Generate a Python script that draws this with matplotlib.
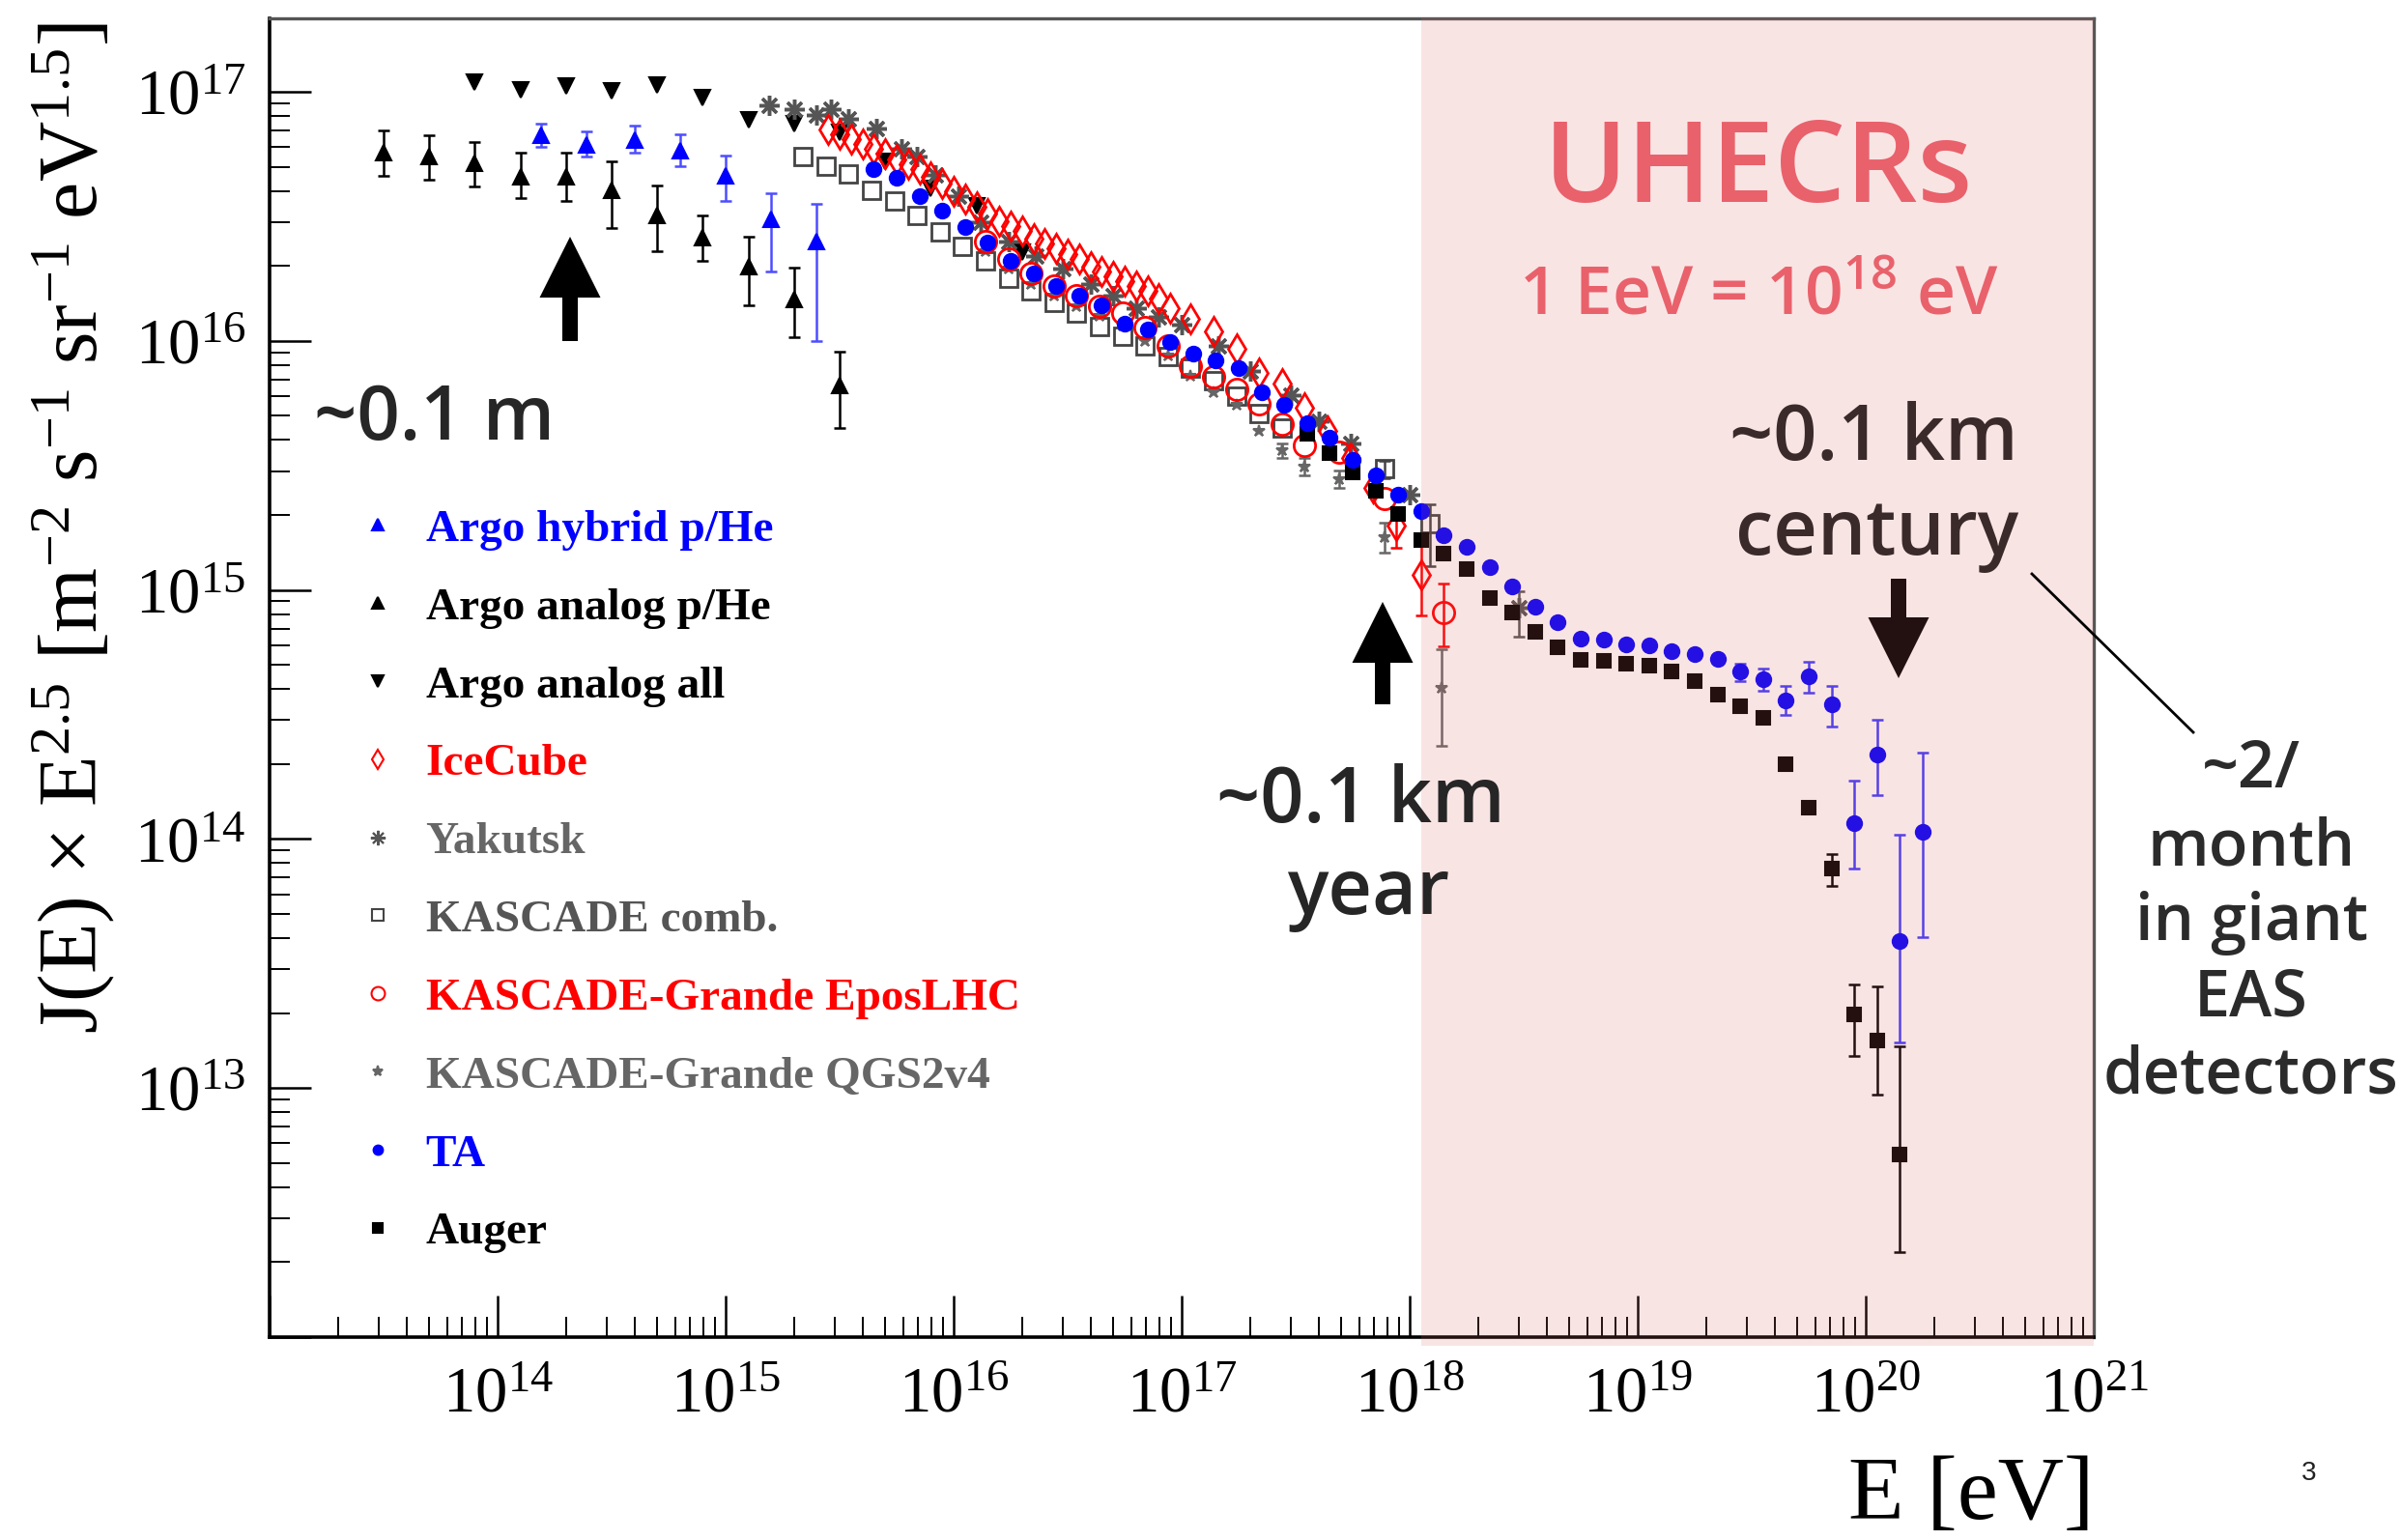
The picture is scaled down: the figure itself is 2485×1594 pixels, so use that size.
import numpy as np
import matplotlib
matplotlib.use("Agg")
import matplotlib.pyplot as plt
from matplotlib.lines import Line2D
from matplotlib.patches import Rectangle, FancyArrow
from matplotlib.ticker import FixedLocator, LogLocator, NullFormatter, FuncFormatter
from matplotlib.transforms import IdentityTransform

plt.rcParams["font.family"] = ["Liberation Serif", "DejaVu Serif"]
plt.rcParams["mathtext.default"] = "regular"

# log10(E / eV) and log10(J E^2.5) per data set
argo_hyb_E = [14.19, 14.39, 14.60, 14.80, 15.00, 15.20, 15.40]
argo_hyb_J = [16.826, 16.787, 16.807, 16.764, 16.661, 16.490, 16.400]
argo_hyb_lo = [16.781, 16.742, 16.755, 16.703, 16.561, 16.278, 16.000]
argo_hyb_hi = [16.871, 16.841, 16.865, 16.829, 16.745, 16.594, 16.551]

argo_ana_E = [13.50, 13.70, 13.90, 14.10, 14.30, 14.50, 14.70, 14.90, 15.10, 15.30, 15.50]
argo_ana_J = [16.755, 16.742, 16.712, 16.658, 16.658, 16.606, 16.503, 16.413, 16.297, 16.168, 15.820]
argo_ana_lo = [16.664, 16.648, 16.620, 16.574, 16.561, 16.454, 16.359, 16.323, 16.142, 16.013, 15.652]
argo_ana_hi = [16.845, 16.826, 16.800, 16.755, 16.755, 16.720, 16.622, 16.503, 16.420, 16.293, 15.955]

argo_all_E = [13.90, 14.10, 14.30, 14.50, 14.70, 14.90, 15.10, 15.30, 15.50, 15.70, 15.90, 16.10, 16.30]
argo_all_J = [17.040, 17.009, 17.022, 17.006, 17.026, 16.978, 16.888, 16.873, 16.839, 16.720, 16.613, 16.542, 16.355]

icecube_E = [15.45, 15.50, 15.55, 15.60, 15.65, 15.70, 15.75, 15.80, 15.85, 15.90,
             15.95, 16.00, 16.05, 16.10, 16.15, 16.20, 16.25, 16.30, 16.35, 16.40,
             16.45, 16.50, 16.55, 16.60, 16.65, 16.70, 16.75, 16.80, 16.85, 16.90,
             16.95, 17.04, 17.14, 17.24, 17.34, 17.44, 17.54, 17.64, 17.74, 17.84,
             17.94, 18.05]
icecube_J = [16.85, 16.83, 16.81, 16.79, 16.77, 16.75, 16.73, 16.71, 16.69, 16.66,
             16.63, 16.60, 16.57, 16.54, 16.51, 16.48, 16.46, 16.44, 16.41, 16.39,
             16.37, 16.35, 16.33, 16.30, 16.28, 16.26, 16.24, 16.22, 16.20, 16.17,
             16.13, 16.09, 16.04, 15.97, 15.87, 15.83, 15.73, 15.64, 15.53, 15.41,
             15.26, 15.06]
icecube_lo = [np.nan] * 40 + [15.17, 14.897]
icecube_hi = [np.nan] * 40 + [15.30, 15.20]

yakutsk_E = [15.19, 15.30, 15.40, 15.46, 15.54, 15.66, 15.77, 15.84, 15.92, 16.02,
             16.12, 16.24, 16.36, 16.48, 16.60, 16.70, 16.80, 16.90, 17.00, 17.16,
             17.30, 17.48, 17.60, 17.74, 18.00, 18.48]
yakutsk_J = [16.945, 16.929, 16.906, 16.930, 16.893, 16.854, 16.772, 16.740, 16.665, 16.580,
             16.478, 16.400, 16.340, 16.291, 16.230, 16.181, 16.130, 16.097, 16.065, 15.981,
             15.878, 15.781, 15.678, 15.587, 15.381, 14.930]
yakutsk_lo = [np.nan] * 25 + [14.813]
yakutsk_hi = [np.nan] * 25 + [14.995]

kascade_E = [15.34, 15.44, 15.54, 15.64, 15.74, 15.84, 15.94, 16.04, 16.14, 16.24,
             16.34, 16.44, 16.54, 16.64, 16.74, 16.84, 16.94, 17.04, 17.14, 17.24,
             17.34, 17.44, 17.89, 18.09]
kascade_J = [16.742, 16.703, 16.671, 16.606, 16.561, 16.503, 16.439, 16.381, 16.323, 16.252,
             16.200, 16.155, 16.110, 16.058, 16.020, 15.981, 15.936, 15.890, 15.840, 15.780,
             15.710, 15.650, 15.486, 15.265]
kascade_lo = [np.nan] * 22 + [15.45, 15.097]
kascade_hi = [np.nan] * 22 + [15.52, 15.343]

kg_epos_E = [16.14, 16.24, 16.34, 16.44, 16.54, 16.64, 16.74, 16.84, 16.94, 17.04,
             17.14, 17.24, 17.34, 17.44, 17.54, 17.69, 17.89, 18.15]
kg_epos_J = [16.400, 16.330, 16.271, 16.220, 16.181, 16.140, 16.110, 16.052, 15.980, 15.900,
             15.855, 15.807, 15.749, 15.665, 15.581, 15.555, 15.368, 14.910]
kg_epos_lo = [np.nan] * 17 + [14.775]
kg_epos_hi = [np.nan] * 17 + [15.026]

kg_qgs_E = [16.14, 16.24, 16.34, 16.44, 16.54, 16.64, 16.74, 16.84, 16.94, 17.04,
            17.14, 17.24, 17.34, 17.44, 17.54, 17.69, 17.89, 18.14]
kg_qgs_J = [16.360, 16.290, 16.230, 16.180, 16.140, 16.100, 16.060, 16.000, 15.940, 15.860,
            15.794, 15.742, 15.639, 15.561, 15.497, 15.445, 15.213, 14.607]
kg_qgs_lo = [np.nan] * 13 + [15.53, 15.46, 15.41, 15.150, 14.375]
kg_qgs_hi = [np.nan] * 13 + [15.59, 15.53, 15.48, 15.270, 14.762]

ta_E = [15.65, 15.75, 15.85, 15.95, 16.05, 16.15, 16.25, 16.35, 16.45, 16.55,
        16.65, 16.75, 16.85, 16.95, 17.05, 17.15, 17.25, 17.35, 17.45, 17.55,
        17.65, 17.75, 17.85, 17.95, 18.05, 18.15, 18.25, 18.35, 18.45, 18.55,
        18.65, 18.75, 18.85, 18.95, 19.05, 19.15, 19.25, 19.35, 19.45, 19.55,
        19.65, 19.75, 19.85, 19.95, 20.05, 20.15, 20.25]
ta_J = [16.690, 16.656, 16.581, 16.523, 16.458, 16.394, 16.323, 16.271, 16.219, 16.181,
        16.142, 16.071, 16.045, 15.994, 15.949, 15.923, 15.890, 15.794, 15.742, 15.671,
        15.613, 15.523, 15.459, 15.381, 15.317, 15.220, 15.175, 15.091, 15.013, 14.932,
        14.871, 14.803, 14.800, 14.781, 14.777, 14.755, 14.742, 14.723, 14.671, 14.643,
        14.558, 14.652, 14.539, 14.063, 14.340, 13.591, 14.029]
ta_lo = [np.nan] * 38 + [14.635, 14.597, 14.497, 14.588, 14.453, 13.881, 14.177, 13.185, 13.606]
ta_hi = [np.nan] * 38 + [14.704, 14.684, 14.615, 14.710, 14.615, 14.236, 14.480, 14.018, 14.348]

auger_E = [17.55, 17.65, 17.75, 17.85, 17.95, 18.05, 18.15, 18.25, 18.35, 18.45,
           18.55, 18.65, 18.75, 18.85, 18.95, 19.05, 19.15, 19.25, 19.35, 19.45,
           19.55, 19.65, 19.75, 19.85, 19.95, 20.05, 20.15]
auger_J = [15.626, 15.549, 15.471, 15.400, 15.304, 15.200, 15.147, 15.084, 14.967, 14.910,
           14.833, 14.768, 14.719, 14.717, 14.704, 14.697, 14.674, 14.633, 14.581, 14.532,
           14.487, 14.300, 14.125, 13.881, 13.294, 13.190, 12.734]
auger_lo = [np.nan] * 23 + [13.810, 13.128, 12.975, 12.342]
auger_hi = [np.nan] * 23 + [13.940, 13.415, 13.407, 13.169]

BLUE = "#0000ff"
RED = "#ff0000"
GRAY = "#555555"

W, H = 2485, 1594
fig = plt.figure(figsize=(W / 100, H / 100), dpi=100)
ax = fig.add_axes([279 / W, 1 - 1384 / H, 1888 / W, 1365 / H])


def draw(logE, logJ, marker, color, ms, filled=True, mew=1.5, lo=None, hi=None,
         ecolor=None, capsize=4, z=3):
    E = 10 ** np.asarray(logE)
    J = 10 ** np.asarray(logJ)
    if lo is not None:
        lo = np.asarray(lo, float)
        hi = np.asarray(hi, float)
        m = ~np.isnan(lo)
        ax.errorbar(E[m], J[m], yerr=[J[m] - 10 ** lo[m], 10 ** hi[m] - J[m]], fmt="none",
                    ecolor=ecolor or color, elinewidth=1.8, capsize=capsize,
                    capthick=1.8, zorder=z)
    ax.plot(E, J, ls="none", marker=marker, ms=ms, mfc=color if filled else "none",
            mec=color, mew=mew, zorder=z)


draw(argo_hyb_E, argo_hyb_J, "^", BLUE, 12, lo=argo_hyb_lo, hi=argo_hyb_hi, ecolor="#4d4dff")
draw(argo_ana_E, argo_ana_J, "^", "black", 12, lo=argo_ana_lo, hi=argo_ana_hi)
draw(argo_all_E, argo_all_J, "v", "black", 12)
draw(kascade_E, kascade_J, "s", "#444444", 13, filled=False, mew=2, lo=kascade_lo, hi=kascade_hi)
draw(yakutsk_E, yakutsk_J, (8, 2, 0), GRAY, 15, mew=2.5, lo=yakutsk_lo, hi=yakutsk_hi)
draw(kg_qgs_E, kg_qgs_J, "*", "#666666", 9, lo=kg_qgs_lo, hi=kg_qgs_hi)
draw(kg_epos_E, kg_epos_J, "o", RED, 16, filled=False, mew=2, lo=kg_epos_lo, hi=kg_epos_hi)
draw(icecube_E, icecube_J, "d", RED, 15, filled=False, mew=2, lo=icecube_lo, hi=icecube_hi)
draw(auger_E, auger_J, "s", "black", 10, lo=auger_lo, hi=auger_hi)
draw(ta_E, ta_J, "o", BLUE, 11, lo=ta_lo, hi=ta_hi, ecolor="#3b3bff")

ax.set_xscale("log")
ax.set_yscale("log")
ax.set_xlim(1e13, 1e21)
ax.set_ylim(1e12, 10 ** 17.295)

ax.xaxis.set_major_locator(FixedLocator([10.0 ** k for k in range(13, 22)]))
ax.yaxis.set_major_locator(FixedLocator([10.0 ** k for k in range(12, 18)]))
ax.xaxis.set_minor_locator(LogLocator(base=10, subs=np.arange(2, 10), numticks=100))
ax.yaxis.set_minor_locator(LogLocator(base=10, subs=np.arange(2, 10), numticks=100))
ax.xaxis.set_minor_formatter(NullFormatter())
ax.yaxis.set_minor_formatter(NullFormatter())


def dec_label(low):
    def f(v, pos):
        k = int(round(np.log10(v)))
        return "" if k == low else r"$10^{%d}$" % k
    return FuncFormatter(f)


ax.xaxis.set_major_formatter(dec_label(13))
ax.yaxis.set_major_formatter(dec_label(12))
ax.tick_params(which="both", direction="in", top=False, right=False)
ax.tick_params(which="major", length=31, width=1.8, labelsize=48)
ax.tick_params(which="minor", length=15, width=1.4)
ax.tick_params(axis="x", which="major", pad=22)
ax.tick_params(axis="y", which="major", pad=18)
for side in ["left", "bottom"]:
    ax.spines[side].set_linewidth(2.6)
for side in ["top", "right"]:
    ax.spines[side].set_linewidth(2.4)
    ax.spines[side].set_color("#555555")

fig.text(76 / W, 1 - 547 / H,
         r"J(E) $\times$ E$^{2.5}$ [m$^{-2}$ s$^{-1}$ sr$^{-1}$ eV$^{1.5}$]",
         rotation=90, ha="center", va="center", fontsize=62)
fig.text(2167 / W, 22 / H, "E [eV]", ha="right", va="baseline", fontsize=68)

# legend with plain marker handles
leg_items = [
    ("Argo hybrid p/He", "^", BLUE, True, 8, BLUE),
    ("Argo analog p/He", "^", "black", True, 8, "black"),
    ("Argo analog all", "v", "black", True, 8, "black"),
    ("IceCube", "d", RED, False, 10, RED),
    ("Yakutsk", (8, 2, 0), GRAY, True, 11, "#666666"),
    ("KASCADE comb.", "s", "#444444", False, 8, "#555555"),
    ("KASCADE-Grande EposLHC", "o", RED, False, 10, RED),
    ("KASCADE-Grande QGS2v4", "*", "#666666", True, 8, "#666666"),
    ("TA", "o", BLUE, True, 7, BLUE),
    ("Auger", "s", "black", True, 7, "black"),
]
handles = [Line2D([], [], ls="none", marker=mk, ms=ms, mec=c, mfc=c if fill else "none", mew=1.5)
           for _, mk, c, fill, ms, _ in leg_items]
leg = ax.legend(handles, [t[0] for t in leg_items], loc="upper left",
                bbox_to_anchor=(0.0468, 0.628), frameon=False, borderaxespad=0,
                borderpad=0, handlelength=1.0, handletextpad=0.55, labelspacing=0.80,
                prop={"family": "Liberation Serif", "weight": "bold", "size": 34})
for txt, item in zip(leg.get_texts(), leg_items):
    txt.set_color(item[5])

# shaded UHECR band
ax.add_patch(Rectangle((10 ** 18.05, -0.0066), 10 ** 21 - 10 ** 18.05, 1.0066,
                       transform=ax.get_xaxis_transform(), facecolor="#df6464",
                       alpha=0.17, lw=0, zorder=10, clip_on=False))


def px(x, y):
    return x / W, 1 - y / H


def arrow(x, y_tail, y_tip, color):
    fig.add_artist(FancyArrow(x, H - y_tail, 0, y_tail - y_tip,
                              width=16, head_width=63, head_length=63,
                              length_includes_head=True, color=color, lw=0,
                              transform=IdentityTransform()))


arrow(590, 353, 245, "black")
arrow(1431, 729, 623, "black")
arrow(1965, 599, 702, "#231010")
fig.add_artist(Line2D([2103, 2270], [H - 594, H - 758], color="black", lw=2,
                      transform=IdentityTransform()))

sans = {"family": ["Open Sans", "DejaVu Sans"], "weight": "semibold"}
fig.text(*px(325, 455), "~0.1 m", ha="left", va="baseline", fontsize=56, color="#262626", **sans)
fig.text(*px(1820, 209), "UHECRs", ha="center", va="baseline", fontsize=84, color="#e9616b", **sans)
fig.text(*px(1820, 325), "1 EeV = 10$^{18}$ eV", ha="center", va="baseline", fontsize=50,
         color="#e9616b", **sans)
fig.text(*px(2089, 476), "~0.1 km", ha="right", va="baseline", fontsize=57, color="#3b2a2a", **sans)
fig.text(*px(2089, 574), "century", ha="right", va="baseline", fontsize=57, color="#3b2a2a", **sans)
fig.text(*px(1408, 851), "~0.1 km", ha="center", va="baseline", fontsize=57, color="#262626", **sans)
fig.text(*px(1416, 946), "year", ha="center", va="baseline", fontsize=57, color="#262626", **sans)
for line, yb in zip(["~2/", "month", "in giant", "EAS", "detectors"], [815, 896, 973, 1052, 1132]):
    fig.text(*px(2330, yb), line, ha="center", va="baseline", fontsize=48, color="#2b2b2b", **sans)
fig.text(*px(2390, 1525), "3", ha="center", va="center", fontsize=20, color="#222222",
         family="Liberation Sans")

fig.savefig("out.png", dpi=100)
